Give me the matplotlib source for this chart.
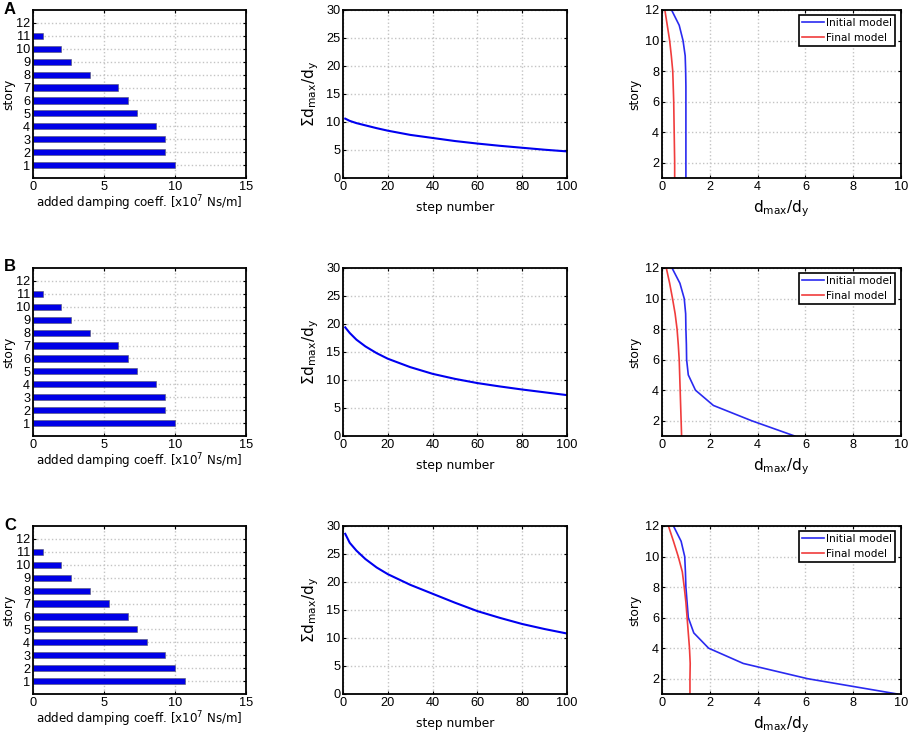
import matplotlib
matplotlib.use("Agg")
import matplotlib.pyplot as plt

plt.rcParams['font.family'] = ['Liberation Sans', 'DejaVu Sans']
plt.rcParams['mathtext.fontset'] = 'custom'
plt.rcParams['mathtext.rm'] = 'DejaVu Sans'
plt.rcParams['mathtext.it'] = 'DejaVu Sans'

W, H = 911, 741

panel_names = ['A', 'B', 'C']
stories = [1, 2, 3, 4, 5, 6, 7, 8, 9, 10, 11, 12]

# added damping coeff. per story
damping_a = [10.0, 9.33, 9.33, 8.67, 7.33, 6.67, 6.0, 4.0, 2.67, 2.0, 0.67, 0]
damping_b = [10.0, 9.33, 9.33, 8.67, 7.33, 6.67, 6.0, 4.0, 2.67, 2.0, 0.67, 0]
damping_c = [10.67, 10.0, 9.33, 8.0, 7.33, 6.67, 5.33, 4.0, 2.67, 2.0, 0.67, 0]

# sum of drift ratios against step number
steps = [1, 3, 6, 10, 15, 20, 30, 40, 50, 60, 70, 80, 90, 100]
sum_a = [10.6, 10.2, 9.8, 9.4, 8.9, 8.45, 7.7, 7.15, 6.6, 6.15, 5.75, 5.4, 5.05, 4.75]
sum_b = [19.4, 18.4, 17.2, 16.0, 14.8, 13.8, 12.3, 11.1, 10.2, 9.45, 8.85, 8.3, 7.8, 7.3]
sum_c = [28.6, 27.0, 25.6, 24.1, 22.6, 21.4, 19.5, 17.9, 16.3, 14.8, 13.6, 12.5, 11.6, 10.8]

# drift ratio per story
init_a = [1.0, 1.0, 1.0, 1.0, 1.0, 1.0, 1.0, 0.99, 0.97, 0.88, 0.72, 0.4]
final_a = [0.53, 0.53, 0.52, 0.51, 0.5, 0.49, 0.47, 0.45, 0.39, 0.32, 0.22, 0.12]
init_b = [5.55, 3.75, 2.15, 1.4, 1.1, 1.03, 1.02, 1.0, 0.99, 0.93, 0.75, 0.42]
final_b = [0.82, 0.8, 0.78, 0.76, 0.74, 0.72, 0.68, 0.63, 0.55, 0.44, 0.32, 0.18]
init_c = [9.85, 6.1, 3.4, 1.95, 1.33, 1.1, 1.05, 1.0, 0.98, 0.95, 0.8, 0.48]
final_c = [1.17, 1.17, 1.18, 1.15, 1.1, 1.05, 1.0, 0.93, 0.85, 0.68, 0.48, 0.27]

damping = [damping_a, damping_b, damping_c]
sums = [sum_a, sum_b, sum_c]
inits = [init_a, init_b, init_c]
finals = [final_a, final_b, final_c]

# pixel boxes of the rows and columns
row_top = [10, 268, 526]
row_bot = [178, 436, 694]
col_left = [33, 343, 662]
col_right = [246, 567, 901]


def make_ax(fig, c, r):
    ax = fig.add_axes([col_left[c] / W, 1 - row_bot[r] / H,
                       (col_right[c] - col_left[c]) / W,
                       (row_bot[r] - row_top[r]) / H])
    ax.set_axisbelow(True)
    ax.grid(True, color='#c4c4c4', linestyle=':', linewidth=1.0)
    ax.tick_params(direction='in', top=True, right=True, length=2.5, width=0.8,
                   labelsize=9.2, pad=2)
    for s in ax.spines.values():
        s.set_linewidth(1.3)
    return ax


def put_labels(ax, c, xtext, ytext, xsize, ysize, below, ylab_x):
    # below: pixels from the axes bottom to the x label centre, ylab_x: pixel column of the y label
    w = col_right[c] - col_left[c]
    h = row_bot[0] - row_top[0]
    ax.set_xlabel(xtext, family='DejaVu Sans', fontsize=xsize, va='center')
    ax.xaxis.set_label_coords(0.5, -below / h)
    ax.set_ylabel(ytext, family='DejaVu Sans', fontsize=ysize, va='center')
    ax.yaxis.set_label_coords((ylab_x - col_left[c]) / w, 0.5)


fig = plt.figure(figsize=(W / 100, H / 100), dpi=100)

for r in range(3):
    # bars
    ax = make_ax(fig, 0, r)
    ax.barh(stories, damping[r], height=0.48, color='#0000e6', edgecolor='#55556a', linewidth=0.4)
    ax.set_xlim(0, 15)
    ax.set_ylim(0, 13)
    ax.set_xticks([0, 5, 10, 15])
    ax.set_yticks(stories)
    put_labels(ax, 0, r'added damping coeff. [x10$^{7}$ Ns/m]', 'story', 8.6, 8.8, 25, 9)
    fig.text(4 / W, 1 - (row_top[r] - 1) / H, panel_names[r], fontsize=12, fontweight='bold',
             va='center', ha='left')

    # step curve
    ax = make_ax(fig, 1, r)
    ax.plot(steps, sums[r], color='#0000f0', linewidth=1.5)
    ax.set_xlim(0, 100)
    ax.set_ylim(0, 30)
    ax.set_xticks(range(0, 101, 20))
    ax.set_yticks(range(0, 31, 5))
    put_labels(ax, 1, 'step number', r'$\Sigma$d$_{\mathrm{max}}$/d$_{\mathrm{y}}$', 8.8, 11, 29, 311)

    # drift profile
    ax = make_ax(fig, 2, r)
    ax.plot(inits[r], stories, color='#2a2af0', linewidth=1.2, label='Initial model')
    ax.plot(finals[r], stories, color='#f03c3c', linewidth=1.2, label='Final model')
    ax.set_xlim(0, 10)
    ax.set_ylim(1, 12)
    ax.set_xticks(range(0, 11, 2))
    ax.set_yticks(range(2, 13, 2))
    put_labels(ax, 2, r'd$_{\mathrm{max}}$/d$_{\mathrm{y}}$', 'story', 11, 8.8, 31, 635)
    leg = ax.legend(loc='upper right', bbox_to_anchor=((895 - 662) / 239, 1 - 5 / 168),
                    fancybox=False, framealpha=1, edgecolor='black',
                    borderaxespad=0, borderpad=0.3, labelspacing=0.45, handlelength=2.1,
                    handletextpad=0.15, prop={'family': 'DejaVu Sans', 'size': 7.6})
    leg.get_frame().set_linewidth(1.2)

fig.savefig('out.png', dpi=100)
